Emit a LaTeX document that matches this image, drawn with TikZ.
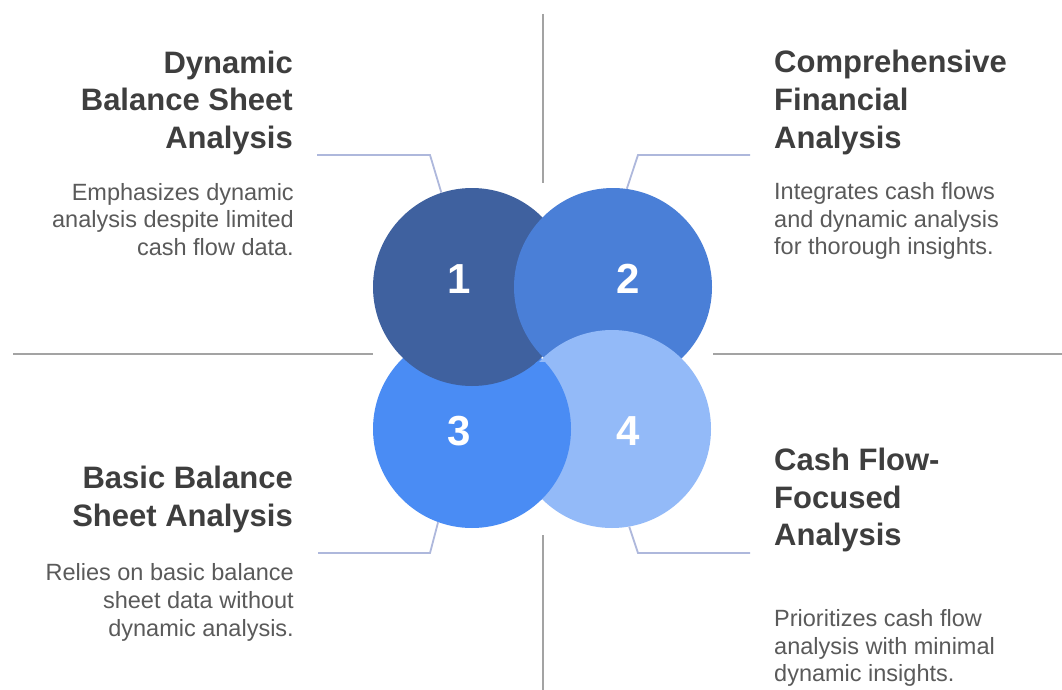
\documentclass[tikz,border=0pt]{standalone}
\usepackage{fontspec}
\setmainfont{Liberation Sans}
\begin{document}
\definecolor{cOne}{HTML}{3F619F}
\definecolor{cTwo}{HTML}{4A7FD7}
\definecolor{cThree}{HTML}{4A8CF4}
\definecolor{cFour}{HTML}{93BAF8}
\definecolor{axisgray}{HTML}{A3A3A3}
\definecolor{leadcol}{HTML}{AEB8DC}
\definecolor{titlecol}{HTML}{3E3E3E}
\definecolor{bodycol}{HTML}{5A5A5A}
\begin{tikzpicture}[x=1pt,y=-1pt,
  disc/.style={circle,minimum size=198pt,inner sep=0pt},
  num/.style={text=white,font=\fontsize{42}{42}\selectfont\bfseries},
  axis/.style={draw=axisgray,line width=2.4pt},
  lead/.style={draw=leadcol,line width=1.8pt},
  ttl/.style={text=titlecol,font=\fontsize{31}{37}\selectfont\bfseries,inner sep=0pt},
  bdy/.style={text=bodycol,font=\fontsize{23.5}{27}\selectfont,inner sep=0pt}]
\useasboundingbox (0,0) rectangle (1062,690);
\fill[white] (0,0) rectangle (1062,690);

% quadrant axes
\coordinate (vt1) at (543,14);
\coordinate (vt2) at (543,183);
\coordinate (vb1) at (543,535);
\coordinate (vb2) at (543,690);
\coordinate (hl1) at (13,354);
\coordinate (hl2) at (373,354);
\coordinate (hr1) at (713,354);
\coordinate (hr2) at (1062,354);
\draw[axis] (vt1) -- (vt2);
\draw[axis] (vb1) -- (vb2);
\draw[axis] (hl1) -- (hl2);
\draw[axis] (hr1) -- (hr2);

% overlapping discs (cyclic stacking)
\node[disc,fill=cThree] (c3) at (472,429) {};
\node[disc,fill=cOne] (c1) at (472,287) {};
\node[disc,fill=cTwo] (c2) at (613,287) {};
\node[disc,fill=cFour] (c4) at (612,429) {};
\begin{scope}
  \clip (495,362) rectangle (600,540);
  \clip (c4.center) circle (101pt);
  \fill[cThree] (c3.center) circle (99pt);
\end{scope}

\node[num] (n1) at (459,279) {1};
\node[num] (n2) at (628,279) {2};
\node[num] (n3) at (459,431) {3};
\node[num] (n4) at (628,431) {4};

% leader lines
\coordinate (a1) at (317,155); \coordinate (a2) at (430,155);
\coordinate (b1) at (750,155); \coordinate (b2) at (638,155);
\coordinate (d1) at (318,553); \coordinate (d2) at (430,553);
\coordinate (e1) at (750,553); \coordinate (e2) at (638,553);
\draw[lead] (a1) -- (a2) -- (c1.108);
\draw[lead] (b1) -- (b2) -- (c2.82);
\draw[lead] (d1) -- (d2) -- (c3.250);
\draw[lead] (e1) -- (e2) -- (c4.280);

% top left block
\node[ttl,anchor=base east] (t1a) at (293,73.5) {Dynamic};
\node[ttl,anchor=base east] (t1b) at (293,111) {Balance Sheet};
\node[ttl,anchor=base east] (t1c) at (293,148.5) {Analysis};
\node[bdy,anchor=base east] (b1a) at (294,200) {Emphasizes dynamic};
\node[bdy,anchor=base east] (b1b) at (294,227.5) {analysis despite limited};
\node[bdy,anchor=base east] (b1c) at (294,255) {cash flow data.};

% top right block
\node[ttl,anchor=base west] (t2a) at (774,73) {Comprehensive};
\node[ttl,anchor=base west] (t2b) at (774,110.5) {Financial};
\node[ttl,anchor=base west] (t2c) at (774,148) {Analysis};
\node[bdy,anchor=base west] (b2a) at (774,199.5) {Integrates cash flows};
\node[bdy,anchor=base west] (b2b) at (774,227) {and dynamic analysis};
\node[bdy,anchor=base west] (b2c) at (774,254.5) {for thorough insights.};

% bottom left block
\node[ttl,anchor=base east] (t3a) at (293,488.5) {Basic Balance};
\node[ttl,anchor=base east] (t3b) at (293,526) {Sheet Analysis};
\node[bdy,anchor=base east] (b3a) at (294,580) {Relies on basic balance};
\node[bdy,anchor=base east] (b3b) at (294,608) {sheet data without};
\node[bdy,anchor=base east] (b3c) at (294,636) {dynamic analysis.};

% bottom right block
\node[ttl,anchor=base west] (t4a) at (774,470.5) {Cash Flow-};
\node[ttl,anchor=base west] (t4b) at (774,508) {Focused};
\node[ttl,anchor=base west] (t4c) at (774,545.5) {Analysis};
\node[bdy,anchor=base west] (b4a) at (774,626) {Prioritizes cash flow};
\node[bdy,anchor=base west] (b4b) at (774,654) {analysis with minimal};
\node[bdy,anchor=base west] (b4c) at (774,681.5) {dynamic insights.};
\end{tikzpicture}
\end{document}
